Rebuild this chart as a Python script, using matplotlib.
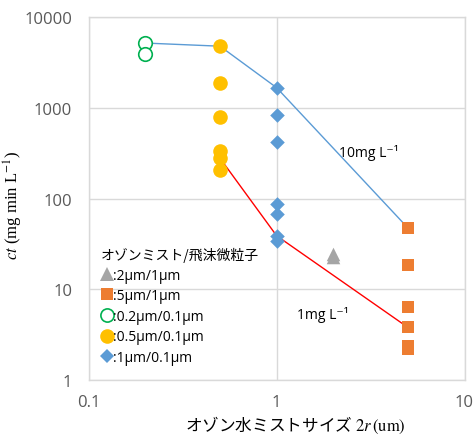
import matplotlib
matplotlib.use("Agg")
import matplotlib.pyplot as plt
from matplotlib.lines import Line2D

plt.rcParams['font.family'] = ['Noto Sans CJK JP', 'DejaVu Sans']

# Data
x_tri = [2, 2]
y_tri = [23, 24.5]
x_sq = [5, 5, 5, 5, 5, 5]
y_sq = [47.5, 18.7, 6.4, 3.8, 2.4, 2.2]
x_oc = [0.2, 0.2]
y_oc = [5200, 3900]
x_yc = [0.5, 0.5, 0.5, 0.5, 0.5, 0.5]
y_yc = [4800, 1870, 800, 333, 279, 209]
x_di = [1, 1, 1, 1, 1, 1, 1]
y_di = [1675, 837, 425, 88, 67, 39, 34]

line10_x = [0.2, 0.5, 1, 5]
line10_y = [5200, 4800, 1675, 47.5]
line1_x = [0.5, 1, 5]
line1_y = [279, 39, 3.8]

legend_labels = [':2μm/1μm', ':5μm/1μm', ':0.2μm/0.1μm', ':0.5μm/0.1μm', ':1μm/0.1μm']
legend_title = 'オゾンミスト/飛沫微粒子'

c_tri = '#A5A5A5'
c_sq = '#ED7D31'
c_oc = '#00B050'
c_yc = '#FFC000'
c_di = '#5B9BD5'

fig = plt.figure(figsize=(4.74, 4.39), dpi=100)
ax = fig.add_axes([88.7/474, 1-381/439, (464.5-88.7)/474, (381-18.3)/439])
ax.set_xscale('log')
ax.set_yscale('log')
ax.set_xlim(0.1, 10)
ax.set_ylim(1, 10000)

ax.plot(line10_x, line10_y, color=c_di, lw=1, zorder=2)
ax.plot(line1_x, line1_y, color='#FF0000', lw=1, zorder=2)

ax.scatter(x_tri, y_tri, marker='^', s=95, color=c_tri, zorder=3, linewidths=0)
ax.scatter(x_sq, y_sq, marker='s', s=75, color=c_sq, zorder=3, linewidths=0)
ax.scatter(x_oc, y_oc, marker='o', s=95, facecolors='white', edgecolors=c_oc, linewidths=1.2, zorder=3)
ax.scatter(x_yc, y_yc, marker='o', s=110, color=c_yc, zorder=3, linewidths=0)
ax.scatter(x_di, y_di, marker='D', s=55, color=c_di, zorder=3, linewidths=0)

ax.set_xticks([0.1, 1, 10])
ax.set_xticklabels(['0.1', '1', '10'])
ax.set_yticks([1, 10, 100, 1000, 10000])
ax.set_yticklabels(['1', '10', '100', '1000', '10000'])
ax.minorticks_off()
ax.tick_params(length=0, labelsize=12, labelcolor='#595959')
ax.tick_params(axis='x', pad=10)
ax.tick_params(axis='y', pad=12)
for lab in ax.get_xticklabels() + ax.get_yticklabels():
    lab.set_fontfamily(['Open Sans', 'DejaVu Sans'])
ax.grid(True, color='#D9D9D9', lw=1)
ax.set_axisbelow(True)
for sp in ax.spines.values():
    sp.set_color('#D9D9D9')
    sp.set_linewidth(1)

ax.text(3.10, 327, '10mg L⁻¹', fontsize=10, ha='center', va='center',
        family=['Open Sans', 'DejaVu Sans'])
ax.text(1.76, 5.34, '1mg L⁻¹', fontsize=10, ha='center', va='center',
        family=['Open Sans', 'DejaVu Sans'])

handles = [
    Line2D([], [], ls='none', marker='^', ms=10, color=c_tri, mew=0),
    Line2D([], [], ls='none', marker='s', ms=9, color=c_sq, mew=0),
    Line2D([], [], ls='none', marker='o', ms=9.5, mfc='white', mec=c_oc, mew=1.2),
    Line2D([], [], ls='none', marker='o', ms=10.5, color=c_yc, mew=0),
    Line2D([], [], ls='none', marker='D', ms=7.5, color=c_di, mew=0),
]
leg = fig.legend(handles, legend_labels, title=legend_title, loc='upper left',
                 bbox_to_anchor=(101/474, 1-248/439), frameon=False,
                 fontsize=10, title_fontsize=10, handlelength=0.8, handletextpad=0.1,
                 labelspacing=0.4, borderpad=0, borderaxespad=0, alignment='left')
for t in leg.get_texts():
    t.set_fontfamily(['Open Sans', 'DejaVu Sans'])

fig.text(13/474, 1-205/439, '$ct$ (mg min L$^{-1}$)', rotation=90, ha='center', va='center',
         fontsize=12, family='Liberation Serif', math_fontfamily='stix')
fig.text(295/474, 1-425/439, 'オゾン水ミストサイズ $\\mathit{2r}\\,\\mathrm{(um)}$', ha='center', va='center',
         fontsize=12, math_fontfamily='stix')

fig.savefig('out.png', dpi=100)
